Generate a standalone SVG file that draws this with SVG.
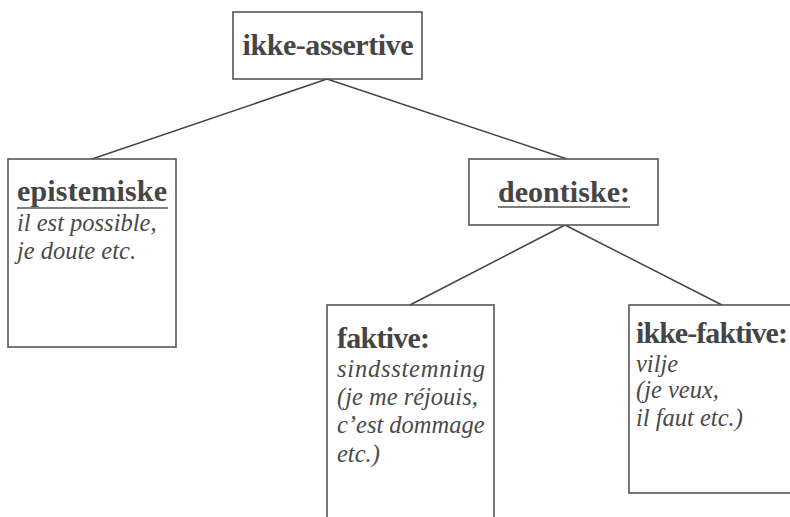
<svg xmlns="http://www.w3.org/2000/svg" width="790" height="517" viewBox="0 0 790 517">
<style>
.box{fill:#fff;stroke:#555;stroke-width:1.6}
.edge{stroke:#444;stroke-width:1.5;fill:none}
.b{font-family:"Liberation Serif",serif;font-weight:bold;font-size:30px;fill:#454545}
.i{font-family:"Liberation Serif",serif;font-style:italic;font-size:24.5px;fill:#4a4a4a}
.u{stroke:#555;stroke-width:1.6}
</style>
<rect width="790" height="517" fill="#fff"/>
<g id="connectors">
<line class="edge" x1="327" y1="79" x2="92" y2="159"/>
<line class="edge" x1="327" y1="79" x2="567" y2="159"/>
<line class="edge" x1="565" y1="225" x2="410" y2="305"/>
<line class="edge" x1="565" y1="225" x2="722" y2="305"/>
</g>
<g id="ikke-assertive">
<rect class="box" x="233" y="12" width="189" height="67"/>
<text class="b" x="328" y="55" text-anchor="middle" textLength="171">ikke-assertive</text>
</g>
<g id="epistemiske">
<rect class="box" x="8" y="159" width="168" height="188"/>
<text class="b" x="17" y="201" textLength="150">epistemiske</text>
<line class="u" x1="17" y1="208" x2="168" y2="208"/>
<text class="i" x="17" y="231">il est possible,</text>
<text class="i" x="17" y="259">je doute etc.</text>
</g>
<g id="deontiske">
<rect class="box" x="469" y="159" width="189" height="66"/>
<text class="b" x="498" y="202" textLength="132">deontiske:</text>
<line class="u" x1="498" y1="207" x2="630" y2="207"/>
</g>
<g id="faktive">
<rect class="box" x="327" y="305" width="167" height="230"/>
<text class="b" x="337" y="348" textLength="93">faktive:</text>
<text class="i" x="337" y="377" textLength="148">sindsstemning</text>
<text class="i" x="337" y="405">(je me réjouis,</text>
<text class="i" x="337" y="433">c’est dommage</text>
<text class="i" x="337" y="462">etc.)</text>
</g>
<g id="ikke-faktive">
<rect class="box" x="629" y="305" width="180" height="188"/>
<text class="b" x="636" y="343" textLength="152">ikke-faktive:</text>
<text class="i" x="636" y="372">vilje</text>
<text class="i" x="636" y="398">(je veux,</text>
<text class="i" x="636" y="426">il faut etc.)</text>
</g>
</svg>
